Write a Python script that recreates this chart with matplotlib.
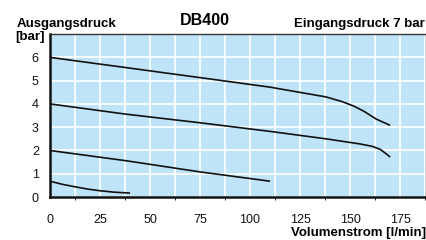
import matplotlib.pyplot as plt

# flow [l/min] and outlet pressure [bar], one curve per set pressure
flow_6 = [0, 38, 75, 110, 138, 146, 152, 157, 163, 170]
p_6 = [6.0, 5.56, 5.13, 4.72, 4.30, 4.10, 3.90, 3.68, 3.35, 3.08]
flow_4 = [0, 38, 75, 110, 138, 155, 161, 165, 168, 170]
p_4 = [4.0, 3.56, 3.19, 2.82, 2.50, 2.28, 2.18, 2.05, 1.86, 1.72]
flow_2 = [0, 38, 75, 110]
p_2 = [2.0, 1.56, 1.08, 0.68]
flow_07 = [0, 6, 12.5, 19, 25, 32, 40]
p_07 = [0.68, 0.55, 0.44, 0.34, 0.27, 0.21, 0.17]

xticks = [0, 25, 50, 75, 100, 125, 150, 175]
yticks = [0, 1, 2, 3, 4, 5, 6]

plt.rcParams['font.family'] = ['Liberation Sans', 'DejaVu Sans']

fig = plt.figure(figsize=(4.27, 2.4), dpi=100)
ax = fig.add_axes([0.117, 0.179, 0.881, 0.679])
ax.set_facecolor('#bfe4f8')

for fx, py in [(flow_6, p_6), (flow_4, p_4), (flow_2, p_2), (flow_07, p_07)]:
    ax.plot(fx, py, color='#111111', lw=1.2, solid_capstyle='butt')

ax.set_xlim(0, 188)
ax.set_ylim(0, 7)
ax.set_xticks([x / 2 for x in range(0, 376, 25)], minor=True)
ax.set_xticks(xticks)
ax.set_yticks(yticks)
ax.grid(True, which='both', color='white', lw=1.2)
ax.set_axisbelow(True)
ax.tick_params(length=0, labelsize=9, colors='#111111')
ax.tick_params(axis='x', pad=12)
ax.tick_params(axis='y', pad=8)
for side in ['top', 'right']:
    ax.spines[side].set_linewidth(1.0)
    ax.spines[side].set_color('#333333')
for side in ['left', 'bottom']:
    ax.spines[side].set_linewidth(1.8)
    ax.spines[side].set_color('#111111')

lbl = dict(fontsize=9.5, fontweight='bold', va='center')
fig.text(0.038, 0.9, 'Ausgangsdruck', ha='left', **lbl)
fig.text(0.036, 0.845, '[bar]', ha='left', **lbl)
fig.text(0.48, 0.915, 'DB400', fontsize=11.5, fontweight='bold', ha='center', va='center')
fig.text(0.995, 0.9, 'Eingangsdruck 7 bar', ha='right', **lbl)
fig.text(0.997, 0.028, 'Volumenstrom [l/min]', ha='right', **lbl)

fig.savefig('out.png', dpi=100)
